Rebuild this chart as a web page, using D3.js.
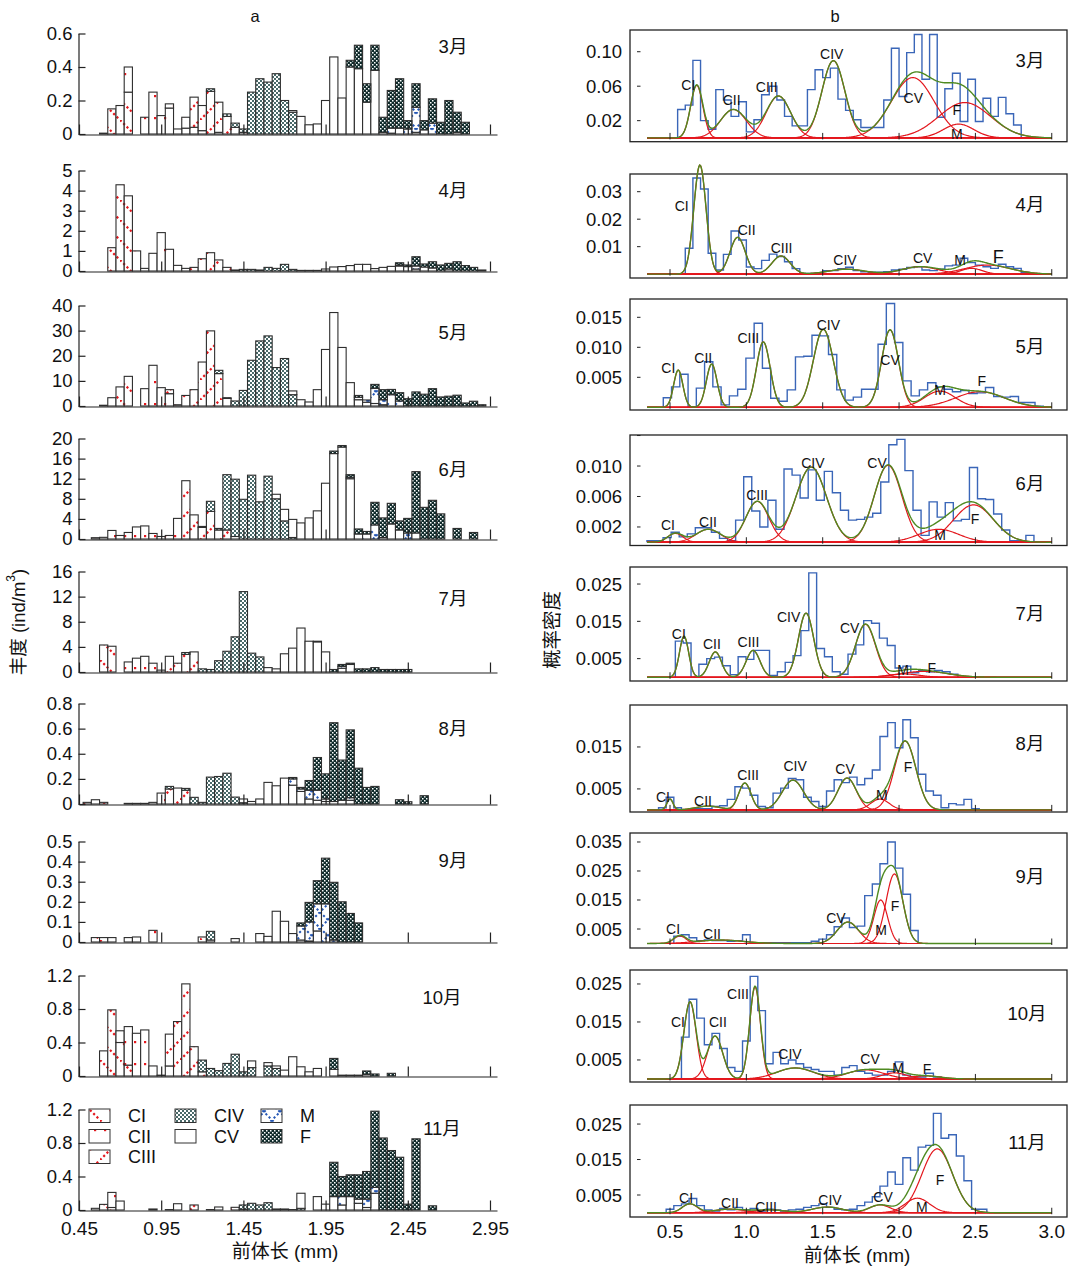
<!DOCTYPE html>
<html>
<head>
<meta charset="utf-8">
<script src="https://cdn.jsdelivr.net/npm/d3@7"></script>
<style>
  body { margin: 0; background: #fff; }
  text { font-family: "Liberation Sans", Arial, "Noto Sans CJK SC", sans-serif; fill: #111; }
  .cjk { font-family: "Liberation Sans", "Noto Sans CJK SC", sans-serif; }
</style>
</head>
<body>
<svg id="chart" width="1069" height="1269"></svg>
<script>
// months and copepod stages
var months = ["3月", "4月", "5月", "6月", "7月", "8月", "9月", "10月", "11月"];
var stages = ["CI", "CII", "CIII", "CIV", "CV", "M", "F"];

// ---- panel a: abundance (ind/m3) per 0.05 mm bin: [stage, first bin centre, values]
var abMar = [
  ["CI", 0.60, [0.005, 0.15, 0.17, 0.25]],
  ["CII", 0.75, [0.15, 0, 0.10, 0.25, 0.11, 0.155, 0, 0.035, 0.04, 0.02, 0, 0.01]],
  ["CIII", 1.00, [0.025, 0.03, 0.065, 0.18, 0.15, 0.255, 0.18, 0.105, 0.04, 0.01]],
  ["CIV", 1.25, [0.015, 0, 0.015, 0.025, 0.02, 0.25, 0.33, 0.31, 0.36, 0.2, 0.13]],
  ["CV", 1.75, [0.01, 0.105, 0.055, 0.06, 0.2, 0.46, 0.215, 0.4, 0.39, 0.19, 0.38, 0.01, 0.005, 0.035, 0, 0.01, 0.025, 0, 0, 0, 0.01]],
  ["M", 2.35, [0.03, 0, 0.03, 0.15, 0, 0.065]],
  ["F", 2.10, [0.04, 0.14, 0.11, 0.15, 0.09, 0.225, 0.295, 0.05, 0.14, 0.055, 0.145, 0.07, 0.2, 0.12, 0.07]]
];
var abApr = [
  ["CI", 0.65, [1.16, 4.29, 3.74]],
  ["CII", 0.80, [1.0, 0.13, 0.88, 1.91, 1.08, 0.28]],
  ["CIII", 1.10, [0.13, 0.18, 0.61, 0.91, 0.55, 0.18, 0.05]],
  ["CIV", 1.45, [0.08, 0.08, 0.05, 0.18, 0.13, 0.33, 0.08, 0.03, 0.03, 0.03]],
  ["CV", 1.95, [0.1, 0.2, 0.22, 0.27, 0.33, 0.33, 0.12, 0.18, 0.23, 0.25, 0.22, 0.1, 0.2, 0.15, 0, 0.1]],
  ["M", 2.40, [0.05, 0, 0.15]],
  ["F", 2.40, [0.11, 0.08, 0.46, 0.15, 0.31, 0.3, 0.28, 0.46, 0.27, 0.18, 0.05]]
];
var abMay = [
  ["CI", 0.60, [0.3, 3.3, 7.6, 11.8]],
  ["CII", 0.85, [6.9, 16.2, 7.3, 4.9, 0.5]],
  ["CIII", 1.00, [1.6, 0, 4.2, 6.5, 17.5, 29.9, 12.9, 3.0]],
  ["CIV", 1.30, [1.3, 0.3, 2.0, 6.2, 18.2, 25.9, 27.9, 15.3, 18.9, 4.5]],
  ["CV", 1.75, [1.5, 2.5, 1.6, 6.5, 22.5, 37.2, 23.3, 9.3, 2.5, 1.5, 1.0, 0.5]],
  ["M", 2.15, [1.0, 0.9, 6.0, 2.0, 4.5, 2.0]],
  ["F", 2.15, [0.7, 0, 1.6, 4.0, 2.1, 3.3, 2.9, 5.6, 4.7, 6.9, 3.6, 3.9, 4.3, 1.2, 1.9, 0.5]]
];
var abJun = [
  ["CII", 0.55, [0.26, 0.33, 1.7, 0.7, 1.3, 2.4, 2.6, 1.1, 0.5, 0.7, 4.1]],
  ["CIII", 1.10, [11.6, 4.8, 2.3, 5.5, 1.8, 1.8, 0.5]],
  ["CIV", 1.20, [0.2, 2.0, 0.3, 11.0, 11.4, 7.9, 12.7, 7.4, 12.5, 8.0, 3.6, 0.3]],
  ["CV", 1.65, [0.9, 2.3, 3.6, 3.2, 4.2, 5.6, 11.1, 17.0, 18.3, 12.0, 1.0, 0, 0, 0, 3.0, 1.8]],
  ["M", 2.10, [0.3, 0, 1.0, 2.8, 0.3, 0, 0, 1.2, 1.2]],
  ["F", 2.00, [0.5, 0.3, 0.5, 1.0, 0.5, 4.5, 3.9, 4.1, 1.8, 2.9, 12.2, 6.3, 7.7, 5.0, 0, 2.1, 0, 1.3]]
];
var abJul = [
  ["CI", 0.60, [4.3, 4.1]],
  ["CII", 0.75, [1.6, 2.2, 2.5, 1.4, 0.3]],
  ["CIII", 1.00, [2.5, 1.4, 2.8, 3.2]],
  ["CIV", 1.10, [0.3, 0, 0.5, 0.4, 1.8, 3.3, 5.6, 12.8, 3.0, 2.4]],
  ["CV", 1.60, [0.7, 0.5, 2.9, 3.8, 7.0, 4.9, 4.8, 3.2, 0, 0.6, 1.2]],
  ["M", 1.90, [0.1, 0, 0, 0.3]],
  ["F", 2.00, [0.4, 0.3, 0.2, 0.5, 0.5, 0.7, 0.4, 0.4, 0.4, 0.4]]
];
var abAug = [
  ["CI", 0.50, [0.013, 0.034, 0.013]],
  ["CII", 0.75, [0.005, 0.005, 0.005, 0.013, 0.087]],
  ["CIII", 1.00, [0.12, 0.127, 0.11]],
  ["CIV", 1.00, [0.02, 0, 0.014, 0.053, 0.013, 0.214, 0.219, 0.245, 0.055, 0.01]],
  ["CV", 1.45, [0.03, 0.02, 0.04, 0.172, 0.145, 0.206, 0.15, 0.1, 0.04, 0.03, 0.02, 0.02, 0.03, 0.03]],
  ["M", 1.75, [0.05, 0.02, 0.07, 0.08, 0.02, 0, 0, 0.02]],
  ["F", 1.75, [0.011, 0.012, 0.077, 0.26, 0.2, 0.627, 0.32, 0.54, 0.285, 0.132, 0.14, 0, 0, 0.034, 0.018, 0, 0.066]]
];
var abSep = [
  ["CI", 0.55, [0.022, 0.022]],
  ["CII", 0.65, [0.022, 0, 0.022, 0.025, 0, 0.058]],
  ["CIII", 1.20, [0.025, 0.01]],
  ["CIV", 1.25, [0.043]],
  ["CV", 1.40, [0.017, 0, 0, 0.042, 0.028, 0.153, 0.103, 0.042, 0.01, 0.005, 0.055]],
  ["M", 1.80, [0.07, 0.095, 0.135, 0.19, 0.01]],
  ["F", 1.80, [0.015, 0.097, 0.115, 0.227, 0.287, 0.2, 0.142, 0.095]]
];
var abOct = [
  ["CI", 0.60, [0.3, 0.79, 0.4, 0.13]],
  ["CII", 0.70, [0.14, 0.46, 0.51, 0.55, 0.12, 0.01, 0.12]],
  ["CIII", 1.00, [0.38, 0.65, 1.1, 0.35, 0.05]],
  ["CIV", 1.20, [0.14, 0.09, 0.064, 0.15, 0.26, 0.05, 0.1, 0, 0.12, 0.09]],
  ["CV", 1.50, [0.08, 0, 0.04, 0.03, 0.07, 0.23, 0.11, 0.05, 0.09, 0, 0.08, 0.01, 0.01, 0.01, 0.02]],
  ["F", 2.00, [0.13, 0, 0, 0, 0.04, 0.024, 0, 0.032]]
];
var abNov = [
  ["CI", 0.55, [0.02, 0.067, 0.03]],
  ["CII", 0.65, [0.18, 0.107, 0, 0, 0, 0.012, 0, 0.005, 0.075]],
  ["CIII", 1.15, [0.06, 0, 0.005, 0.036, 0, 0.032, 0.01]],
  ["CIV", 1.45, [0.05, 0.08, 0.06, 0.087, 0.012, 0.012, 0.005, 0.02]],
  ["CV", 1.80, [0.18, 0, 0.16, 0.07, 0.16, 0.06, 0.16, 0.08, 0.03, 0.2]],
  ["M", 2.05, [0.1, 0, 0.05, 0.1, 0.07]],
  ["F", 2.00, [0.41, 0.24, 0.26, 0.29, 0.33, 0.91, 0.86, 0.71, 0.63, 0.07, 0.85, 0, 0.05]]
];
var abundance = [abMar, abApr, abMay, abJun, abJul, abAug, abSep, abOct, abNov];

var abMax = [0.6, 5, 40, 20, 16, 0.8, 0.5, 1.2, 1.2];
var abTicks = [
  [0, 0.2, 0.4, 0.6], [0, 1, 2, 3, 4, 5], [0, 10, 20, 30, 40], [0, 4, 8, 12, 16, 20],
  [0, 4, 8, 12, 16], [0, 0.2, 0.4, 0.6, 0.8], [0, 0.1, 0.2, 0.3, 0.4, 0.5],
  [0, 0.4, 0.8, 1.2], [0, 0.4, 0.8, 1.2]
];
var xTicksA = [0.45, 0.95, 1.45, 1.95, 2.45, 2.95];

// ---- panel b: length-frequency histograms (bin start, bin width, densities)
var pdStart = [0.55, 0.60, 0.456, 0.349, 0.535, 0.425, 0.525, 0.575, 0.475];
var pdWidth = [0.05, 0.05, 0.0541, 0.0528, 0.0514, 0.05, 0.05, 0.05, 0.05];
var pdMar = [0.033, 0.038, 0.09, 0.02, 0.01, 0.056, 0.044, 0.025, 0.042, 0.007, 0.021, 0.05, 0.06, 0.044, 0.025, 0.014, 0.014, 0.056, 0.079, 0.07, 0.081, 0.045, 0.032, 0.021, 0.012, 0.012, 0.012, 0.044, 0.104, 0.048, 0.099, 0.12, 0.068, 0.12, 0.024, 0.057, 0.075, 0.019, 0.068, 0.019, 0.046, 0.025, 0.047, 0.028, 0.015];
var pdApr = [0.0094, 0.035, 0.031, 0.0076, 0.0015, 0.0072, 0.0157, 0.0124, 0.0026, 0.002, 0.005, 0.0073, 0.0064, 0.0045, 0.002, 0.0003, 0.0003, 0.0004, 0.0013, 0.0013, 0.002, 0.0025, 0.0013, 0.0009, 0.0007, 0.0007, 0.0009, 0.0015, 0.0018, 0.0024, 0.0027, 0.0015, 0.0013, 0.0018, 0.003, 0.0033, 0.0058, 0.0042, 0.0033, 0.0027, 0.0021, 0.0036, 0.0027, 0.0021, 0.0007];
var pdMay = [0.0016, 0.0034, 0.0055, 0.0001, 0.0032, 0.0076, 0.0034, 0.0004, 0.0019, 0.003, 0.0082, 0.014, 0.0065, 0.0015, 0.001, 0.0029, 0.0084, 0.0085, 0.012, 0.0119, 0.0088, 0.0029, 0.0012, 0.0017, 0.003, 0.003, 0.0105, 0.0173, 0.0108, 0.0044, 0.0019, 0.0029, 0.0041, 0.0034, 0.003, 0.0026, 0.0028, 0.0023, 0.0024, 0.0033, 0.0018, 0.0017, 0.0018, 0.0008, 0.0008, 0.0002];
var pdJun = [0.0002, 0.0002, 0.0006, 0.0013, 0.0007, 0.0011, 0.0019, 0.0019, 0.0013, 0.0005, 0.0002, 0.0029, 0.0086, 0.0041, 0.002, 0.0055, 0.0017, 0.0096, 0.0088, 0.0058, 0.0095, 0.0055, 0.0093, 0.0065, 0.0042, 0.0029, 0.003, 0.0033, 0.0038, 0.0079, 0.0128, 0.0135, 0.0094, 0.0042, 0.0009, 0.0053, 0.0033, 0.0052, 0.0028, 0.003, 0.0098, 0.0057, 0.0056, 0.0037, 0.0016, 0.0002, 0.0002, 0.0009];
var pdJul = [0.0097, 0.0092, 0, 0.0035, 0.005, 0.0054, 0.0031, 0.0007, 0.0055, 0.0048, 0.0072, 0.0072, 0.0005, 0.0015, 0.004, 0.0058, 0.0125, 0.028, 0.0077, 0.0055, 0.0015, 0.0008, 0.0062, 0.0087, 0.0152, 0.0145, 0.0105, 0.0085, 0.0025, 0.003, 0.0012, 0.0018, 0.0015, 0.0018, 0.0015, 0.0008];
var pdAug = [0.0005, 0.003, 0.0005, 0, 0.0003, 0.0003, 0.0003, 0.0008, 0.001, 0.0025, 0.0055, 0.0052, 0.0035, 0.0008, 0.0005, 0.004, 0.0052, 0.0075, 0.0072, 0.003, 0.002, 0.0008, 0.0045, 0.0072, 0.0065, 0.0078, 0.006, 0.0075, 0.0095, 0.0175, 0.0208, 0.0148, 0.0215, 0.0172, 0.0085, 0.0045, 0.0035, 0.0005, 0.0015, 0.0012, 0.0025, 0.0003];
var pdSep = [0.0025, 0.003, 0.002, 0.001, 0.0012, 0.001, 0.001, 0.0008, 0.001, 0.003, 0.0003, 0.0003, 0.0003, 0.0003, 0.0003, 0.0003, 0.0003, 0.0003, 0.0008, 0.0015, 0.003, 0.0058, 0.0088, 0.0055, 0.006, 0.0165, 0.0205, 0.0275, 0.035, 0.026, 0.017, 0.0045];
var pdOct = [0.011, 0.021, 0.016, 0.009, 0.012, 0.008, 0.003, 0.002, 0.01, 0.027, 0.018, 0.004, 0.007, 0.004, 0.005, 0.004, 0.003, 0.0025, 0.002, 0.002, 0.001, 0.003, 0.0035, 0.002, 0.0015, 0.001, 0.001, 0.002, 0.0045, 0.001, 0.0005, 0.0005, 0.0015, 0.0005];
var pdNov = [0.001, 0.002, 0.0025, 0.004, 0.002, 0.0008, 0.0005, 0.0012, 0.0008, 0.0015, 0.0008, 0.0012, 0.0005, 0.001, 0.0008, 0.0005, 0.0008, 0.001, 0.0015, 0.002, 0.0025, 0.0015, 0.001, 0.0008, 0.001, 0.002, 0.003, 0.0045, 0.0075, 0.0115, 0.008, 0.0155, 0.012, 0.0185, 0.019, 0.028, 0.021, 0.022, 0.016, 0.009, 0.001, 0.001];
var density = [pdMar, pdApr, pdMay, pdJun, pdJul, pdAug, pdSep, pdOct, pdNov];

// fitted normal components: [stage, mean (mm), sd (mm), peak density]
var fitMar = [["CI", 0.675, 0.04, 0.061], ["CII", 0.915, 0.085, 0.033], ["CIII", 1.21, 0.08, 0.0486], ["CIV", 1.57, 0.075, 0.0896], ["CV", 2.09, 0.14, 0.07], ["M", 2.39, 0.1, 0.016], ["F", 2.43, 0.17, 0.041]];
var fitApr = [["CI", 0.696, 0.04, 0.0397], ["CII", 0.943, 0.05, 0.0134], ["CIII", 1.227, 0.06, 0.0066], ["CIV", 1.657, 0.12, 0.0018], ["CV", 2.137, 0.12, 0.0027], ["M", 2.475, 0.07, 0.0021], ["F", 2.58, 0.15, 0.0033]];
var fitMay = [["CI", 0.554, 0.03, 0.0062], ["CII", 0.773, 0.035, 0.0072], ["CIII", 1.111, 0.045, 0.0109], ["CIV", 1.504, 0.065, 0.013], ["CV", 1.941, 0.055, 0.0129], ["M", 2.268, 0.1, 0.0027], ["F", 2.53, 0.16, 0.0026]];
var fitJun = [["CI", 0.535, 0.05, 0.00116], ["CII", 0.751, 0.08, 0.0017], ["CIII", 1.072, 0.075, 0.00536], ["CIV", 1.425, 0.1, 0.00986], ["CV", 1.928, 0.09, 0.0101], ["M", 2.26, 0.13, 0.0017], ["F", 2.488, 0.13, 0.0049]];
var fitJul = [["CI", 0.592, 0.03, 0.011], ["CII", 0.797, 0.04, 0.0068], ["CIII", 1.044, 0.045, 0.0072], ["CIV", 1.391, 0.05, 0.0172], ["CV", 1.78, 0.065, 0.0142], ["M", 2.031, 0.1, 0.0009], ["F", 2.168, 0.15, 0.0016]];
var fitAug = [["CI", 0.5, 0.02, 0.0026], ["CII", 0.75, 0.08, 0.0009], ["CIII", 0.99, 0.04, 0.0064], ["CIV", 1.305, 0.07, 0.0071], ["CV", 1.66, 0.06, 0.0076], ["M", 1.875, 0.06, 0.0026], ["F", 2.04, 0.07, 0.0164]];
var fitSep = [["CI", 0.565, 0.04, 0.0026], ["CII", 0.83, 0.15, 0.0012], ["CV", 1.665, 0.07, 0.0074], ["M", 1.88, 0.045, 0.015], ["F", 1.97, 0.055, 0.024]];
var fitOct = [["CI", 0.631, 0.04, 0.0203], ["CII", 0.795, 0.05, 0.0113], ["CIII", 1.057, 0.035, 0.0242], ["CIV", 1.32, 0.12, 0.0029], ["CV", 1.78, 0.12, 0.0024], ["M", 1.97, 0.08, 0.0016], ["F", 2.17, 0.1, 0.0008]];
var fitNov = [["CI", 0.63, 0.05, 0.0025], ["CII", 0.89, 0.1, 0.001], ["CIII", 1.15, 0.1, 0.0008], ["CIV", 1.53, 0.1, 0.0016], ["CV", 1.875, 0.07, 0.0022], ["M", 2.12, 0.08, 0.0041], ["F", 2.25, 0.1, 0.018]];
var fits = [fitMar, fitApr, fitMay, fitJun, fitJul, fitAug, fitSep, fitOct, fitNov];

var pdTicks = [
  [0.02, 0.06, 0.10], [0.01, 0.02, 0.03], [0.005, 0.010, 0.015], [0.002, 0.006, 0.010, 0.014],
  [0.005, 0.015, 0.025], [0.005, 0.015], [0.005, 0.015, 0.025, 0.035], [0.005, 0.015, 0.025], [0.005, 0.015, 0.025]
];
var pdTickLabels = [
  ["0.02", "0.06", "0.10"], ["0.01", "0.02", "0.03"], ["0.005", "0.010", "0.015"], ["0.002", "0.006", "0.010", ""],
  ["0.005", "0.015", "0.025"], ["0.005", "0.015"], ["0.005", "0.015", "0.025", "0.035"], ["0.005", "0.015", "0.025"], ["0.005", "0.015", "0.025"]
];
var xTicksB = [0.5, 1.0, 1.5, 2.0, 2.5, 3.0];

// ---- layout
var baseA = [134, 271, 406, 539, 672, 804, 942, 1076, 1210];
var plotH = 100.5;
var monthYA = [46, 190, 332, 469, 598, 728, 860, 997, 1128];
var topB = [30, 174, 299, 435, 567, 705, 833, 970, 1105];
var botB = [141.7, 278, 410, 545.5, 681, 812, 948, 1082, 1217];
var yDomB = [[-0.0044, 0.1252], [-0.0014, 0.03644], [-0.00045, 0.01805], [-0.00043, 0.01407], [-0.001, 0.02957],
  [-0.0005, 0.025], [-0.00155, 0.0381], [-0.0008, 0.02868], [-0.0012, 0.03037]];
var monthYB = [60, 204, 346, 483, 613, 743, 876, 1013, 1142];
// where the stage names sit, in data units (mm, density), same order as the fits
var labelAt = [
  [[0.62, 0.0613], [0.904, 0.044], [1.133, 0.0594], [1.559, 0.097], [2.093, 0.046], [2.378, 0.0045], [2.378, 0.0324]],
  [[0.577, 0.0248], [1.002, 0.0161], [1.231, 0.0095], [1.646, 0.0052], [2.155, 0.0059], [2.399, 0.0052], [2.65, 0.0064]],
  [[0.489, 0.0065], [0.718, 0.0082], [1.013, 0.0115], [1.537, 0.0137], [1.941, 0.0079], [2.268, 0.0029], [2.541, 0.0044]],
  [[0.487, 0.00226], [0.749, 0.00266], [1.07, 0.0062], [1.436, 0.0104], [1.856, 0.0104], [2.268, 0.00095], [2.497, 0.00305]],
  [[0.558, 0.0115], [0.774, 0.009], [1.014, 0.0095], [1.277, 0.0162], [1.677, 0.0133], [2.027, 0.002], [2.214, 0.0025]],
  [[0.454, 0.0031], [0.716, 0.0021], [1.011, 0.0083], [1.319, 0.0105], [1.646, 0.0098], [1.888, 0.0036], [2.059, 0.0102]],
  [[0.52, 0.005], [0.775, 0.0033], [1.587, 0.0088], [1.882, 0.0047], [1.973, 0.0129]],
  [[0.552, 0.015], [0.814, 0.015], [0.945, 0.0224], [1.286, 0.0066], [1.81, 0.0053], [1.993, 0.0029], [2.183, 0.0026]],
  [[0.605, 0.0042], [0.893, 0.0028], [1.129, 0.0016], [1.548, 0.0036], [1.895, 0.0045], [2.15, 0.0016], [2.268, 0.0092]]
];

var RED = "#e3171d", BLUE = "#3a66b8", GREEN = "#4f8a21", INK = "#222";

var svg = d3.select("#chart");
var defs = svg.append("defs");

// fill patterns for the stages
function newPattern(id, w, h, bg) {
  var p = defs.append("pattern").attr("id", id).attr("patternUnits", "userSpaceOnUse")
    .attr("width", w).attr("height", h);
  p.append("rect").attr("width", w).attr("height", h).attr("fill", bg);
  return p;
}
var p;
p = newPattern("p-CI", 20, 20, "#fff");
p.append("path").attr("d", "M0,0L20,20").attr("stroke", RED).attr("stroke-width", 2.2).attr("stroke-dasharray", "2.2,2.5");
p = newPattern("p-CII", 10, 22, "#fff");
p.append("rect").attr("x", 4).attr("y", 7).attr("width", 2.2).attr("height", 2.2).attr("fill", RED);
p = newPattern("p-CIII", 20, 20, "#fff");
p.append("path").attr("d", "M0,20L20,0").attr("stroke", RED).attr("stroke-width", 2.2).attr("stroke-dasharray", "2.2,2.5");
p = newPattern("p-CIV", 4, 4, "#fff");
p.append("rect").attr("x", 0).attr("y", 0).attr("width", 2).attr("height", 2).attr("fill", "#4a6a6a");
p.append("rect").attr("x", 2).attr("y", 2).attr("width", 2).attr("height", 2).attr("fill", "#4a6a6a");
p = newPattern("p-CV", 4, 4, "#fff");
p = newPattern("p-M", 16, 16, "#fff");
p.append("path").attr("d", "M0,0L16,16M16,0L0,16").attr("stroke", "#2456b4").attr("stroke-width", 2).attr("stroke-dasharray", "2.2,2.3");
p = newPattern("p-F", 4, 4, "#0f2a2a");
p.append("rect").attr("x", 0).attr("y", 0).attr("width", 1.5).attr("height", 1.5).attr("fill", "#fff");
p.append("rect").attr("x", 2).attr("y", 2).attr("width", 1.5).attr("height", 1.5).attr("fill", "#fff");

// ================= panel a =================
var xa = d3.scaleLinear().domain([0.45, 2.9926]).range([79, 497]);
var binW = xa(0.5) - xa(0.45);

abundance.forEach(function(rows, m) {
  var byBin = new Map();
  rows.forEach(function(r) {
    r[2].forEach(function(v, k) {
      var c = +(r[1] + 0.05 * k).toFixed(2);
      if (!byBin.has(c)) byBin.set(c, {x: c});
      byBin.get(c)[r[0]] = v;
    });
  });
  var table = Array.from(byBin.values()).sort(function(a, b) { return a.x - b.x; });
  table.forEach(function(r) { stages.forEach(function(s) { if (r[s] === undefined) r[s] = 0; }); });
  var series = d3.stack().keys(stages)(table);

  var y = d3.scaleLinear().domain([0, abMax[m]]).range([baseA[m], baseA[m] - plotH]);
  var g = svg.append("g");

  series.forEach(function(s) {
    g.selectAll(null).data(s.filter(function(d) { return d[1] - d[0] > 0; }))
      .join("rect")
      .attr("x", function(d) { return xa(d.data.x - 0.025); })
      .attr("width", binW)
      .attr("y", function(d) { return y(d[1]); })
      .attr("height", function(d) { return y(d[0]) - y(d[1]); })
      .attr("fill", "url(#p-" + s.key + ")")
      .attr("stroke", "#2e2e2e")
      .attr("stroke-width", 1.1);
  });

  var ya = g.append("g").attr("transform", "translate(78.5,0)")
    .call(d3.axisLeft(y).tickValues(abTicks[m]).tickSizeInner(-7).tickSizeOuter(0).tickPadding(6)
      .tickFormat(function(d) { return String(d); }));
  ya.attr("font-size", null).attr("font-family", null);
  ya.selectAll("text").style("font-size", "18.5px");
  ya.selectAll("path, line").attr("stroke", INK).attr("stroke-width", 1.2);

  var xAx = g.append("g").attr("transform", "translate(0," + (baseA[m] + 0.5) + ")")
    .call(d3.axisBottom(xa).tickValues(xTicksA).tickSizeInner(-10).tickSizeOuter(0).tickPadding(11)
      .tickFormat(m === 8 ? d3.format(".2f") : ""));
  xAx.attr("font-size", null).attr("font-family", null);
  xAx.selectAll("text").style("font-size", "19px");
  xAx.selectAll("path, line").attr("stroke", INK).attr("stroke-width", 1.2);

  g.append("text").attr("class", "cjk")
    .attr("x", m >= 7 ? 442 : 453).attr("y", monthYA[m])
    .attr("text-anchor", "middle").attr("dominant-baseline", "central")
    .style("font-size", "18.5px").text(months[m]);
});

// legend inside the last panel
var legendCols = [[89, ["CI", "CII", "CIII"]], [175, ["CIV", "CV"]], [261, ["M", "F"]]];
var legendRowY = [1109, 1129.5, 1150];
var lg = svg.append("g");
legendCols.forEach(function(col) {
  col[1].forEach(function(st, i) {
    lg.append("rect").attr("x", col[0]).attr("y", legendRowY[i]).attr("width", 21).attr("height", 13.5)
      .attr("fill", "url(#p-" + st + ")").attr("stroke", "#333").attr("stroke-width", 1);
    lg.append("text").attr("x", col[0] + 39).attr("y", legendRowY[i] + 7)
      .attr("dominant-baseline", "central").style("font-size", "18px").text(st);
  });
});

svg.append("text").attr("class", "cjk").attr("x", 285).attr("y", 1251).attr("text-anchor", "middle")
  .attr("dominant-baseline", "central").style("font-size", "19px").text("前体长 (mm)");
var yt = svg.append("text").attr("class", "cjk")
  .attr("transform", "translate(18,622) rotate(-90)").attr("text-anchor", "middle")
  .attr("dominant-baseline", "central").style("font-size", "18.5px");
yt.append("tspan").text("丰度 (ind/m");
yt.append("tspan").attr("dy", -7).style("font-size", "12px").text("3");
yt.append("tspan").attr("dy", 7).text(")");
svg.append("text").attr("x", 255).attr("y", 16).attr("text-anchor", "middle")
  .attr("dominant-baseline", "central").style("font-size", "16.5px").text("a");

// ================= panel b =================
var xb = d3.scaleLinear().domain([0.5, 3.0]).range([670, 1051.75]);
var boxL = 630, boxR = 1067;
var xs = d3.range(0.35, 3.0001, 0.005);
function gauss(c, x) { return c[3] * Math.exp(-0.5 * Math.pow((x - c[1]) / c[2], 2)); }

density.forEach(function(vals, m) {
  var y = d3.scaleLinear().domain(yDomB[m]).range([botB[m], topB[m]]);
  var g = svg.append("g");
  var y0 = y(0);

  g.append("rect").attr("x", boxL).attr("y", topB[m]).attr("width", boxR - boxL)
    .attr("height", botB[m] - topB[m]).attr("fill", "none").attr("stroke", INK).attr("stroke-width", 1.3);

  // histogram as a step outline
  var st = pdStart[m], w = pdWidth[m];
  var pts = [[st, 0]];
  vals.forEach(function(v, k) { pts.push([st + w * k, v]); });
  pts.push([st + w * vals.length, 0]);
  var step = d3.line().x(function(d) { return xb(d[0]); }).y(function(d) { return y(d[1]); })
    .curve(d3.curveStepAfter);
  g.append("path").attr("d", step(pts)).attr("fill", "none").attr("stroke", BLUE).attr("stroke-width", 1.4);

  var line = d3.line().x(function(d) { return xb(d[0]); }).y(function(d) { return y(d[1]); });
  fits[m].forEach(function(c) {
    g.append("path").attr("d", line(xs.map(function(x) { return [x, gauss(c, x)]; })))
      .attr("fill", "none").attr("stroke", RED).attr("stroke-width", 1.2);
  });
  g.append("path").attr("d", line(xs.map(function(x) {
      return [x, d3.sum(fits[m], function(c) { return gauss(c, x); })];
    })))
    .attr("fill", "none").attr("stroke", GREEN).attr("stroke-width", 1.4);

  // x ticks on the zero line
  g.selectAll(null).data(xTicksB).join("line")
    .attr("x1", function(d) { return xb(d); }).attr("x2", function(d) { return xb(d); })
    .attr("y1", y0 - 5).attr("y2", y0 + 1.5).attr("stroke", INK).attr("stroke-width", 1);
  if (m === 8) {
    g.selectAll(null).data(xTicksB).join("text")
      .attr("x", function(d) { return xb(d); }).attr("y", 1231).attr("text-anchor", "middle")
      .attr("dominant-baseline", "central").style("font-size", "19px")
      .text(d3.format(".1f"));
  }

  // y ticks
  g.selectAll(null).data(pdTicks[m]).join("line")
    .attr("x1", boxL + 7).attr("x2", boxL + 10.5)
    .attr("y1", function(d) { return y(d); }).attr("y2", function(d) { return y(d); })
    .attr("stroke", INK).attr("stroke-width", 1);
  g.selectAll(null).data(pdTicks[m]).join("text")
    .attr("x", 622).attr("y", function(d) { return y(d); })
    .attr("text-anchor", "end").attr("dominant-baseline", "central").style("font-size", "18.5px")
    .text(function(d, i) { return pdTickLabels[m][i]; });

  // stage names
  fits[m].forEach(function(c, i) {
    var big = (m === 1 && c[0] === "F");
    g.append("text").attr("x", xb(labelAt[m][i][0])).attr("y", y(labelAt[m][i][1]))
      .attr("text-anchor", "middle").attr("dominant-baseline", "central")
      .style("font-size", big ? "18px" : "14px").text(c[0]);
  });

  g.append("text").attr("class", "cjk").attr("x", m >= 7 ? 1027 : 1030).attr("y", monthYB[m])
    .attr("text-anchor", "middle").attr("dominant-baseline", "central")
    .style("font-size", "18.5px").text(months[m]);
});

svg.append("text").attr("class", "cjk").attr("x", 857).attr("y", 1255).attr("text-anchor", "middle")
  .attr("dominant-baseline", "central").style("font-size", "19px").text("前体长 (mm)");
svg.append("text").attr("class", "cjk")
  .attr("transform", "translate(552,630) rotate(-90)").attr("text-anchor", "middle")
  .attr("dominant-baseline", "central").style("font-size", "19.5px").text("概率密度");
svg.append("text").attr("x", 835).attr("y", 16).attr("text-anchor", "middle")
  .attr("dominant-baseline", "central").style("font-size", "16.5px").text("b");
</script>
</body>
</html>
